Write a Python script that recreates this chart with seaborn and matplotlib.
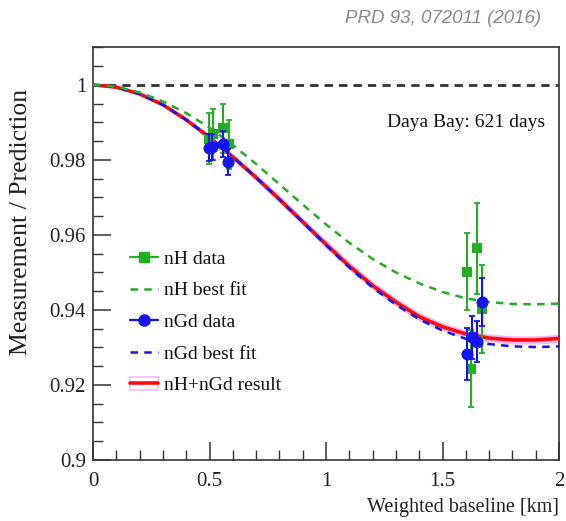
import numpy as np
import pandas as pd
import matplotlib
matplotlib.use("Agg")
import matplotlib.pyplot as plt
from matplotlib.lines import Line2D
from matplotlib.patches import Rectangle
from matplotlib.ticker import MultipleLocator, FixedLocator
import seaborn as sns

# ---------------- data ----------------
baseline = [0.0, 0.1, 0.2, 0.3, 0.4, 0.5, 0.6, 0.7, 0.8, 0.9, 1.0,
            1.1, 1.2, 1.3, 1.4, 1.5, 1.6, 1.7, 1.8, 1.9, 2.0]
combined_fit = [1.0000, 0.9994, 0.9976, 0.9947, 0.9907, 0.9860, 0.9808, 0.9753,
                0.9695, 0.9635, 0.9575, 0.9517, 0.9465, 0.9421, 0.9382, 0.9355,
                0.9336, 0.9325, 0.9320, 0.9320, 0.9324]
combined_band = [0.0, 0.0001, 0.0002, 0.0003, 0.0004, 0.0005, 0.0006, 0.0007,
                 0.0008, 0.0008, 0.0009, 0.0009, 0.0009, 0.0009, 0.0009, 0.0009,
                 0.0009, 0.0009, 0.0009, 0.0009, 0.0009]
ngd_fit = [1.0000, 0.9994, 0.9976, 0.9947, 0.9907, 0.9860, 0.9808, 0.9753,
           0.9695, 0.9634, 0.9573, 0.9513, 0.9460, 0.9414, 0.9375, 0.9345,
           0.9323, 0.9309, 0.9303, 0.9301, 0.9303]
nh_fit = [1.0000, 0.9995, 0.9980, 0.9956, 0.9925, 0.9886, 0.9840, 0.9789,
          0.9735, 0.9681, 0.9628, 0.9579, 0.9536, 0.9500, 0.9471, 0.9448,
          0.9431, 0.9421, 0.9416, 0.9415, 0.9417]

nh_L = [0.498, 0.515, 0.558, 0.584, 1.604, 1.624, 1.649, 1.668]
nh_ratio = [0.9856, 0.9868, 0.9884, 0.9842, 0.9502, 0.9243, 0.9564, 0.9402]
nh_err = [0.0068, 0.0068, 0.0065, 0.0065, 0.0102, 0.0103, 0.0121, 0.0118]

ngd_L = [0.498, 0.512, 0.558, 0.581, 1.604, 1.625, 1.649, 1.670]
ngd_ratio = [0.9833, 0.9835, 0.9842, 0.9795, 0.9283, 0.9327, 0.9315, 0.9421]
ngd_err = [0.0035, 0.0035, 0.0035, 0.0035, 0.0070, 0.0057, 0.0055, 0.0063]

legend_labels = ["nH data", "nH best fit", "nGd data", "nGd best fit", "nH+nGd result"]

# ---------------- styling ----------------
sns.set_style("ticks")
plt.rcParams["font.family"] = ["Liberation Serif", "DejaVu Serif"]

GREEN = "#22b022"
BLUE = "#1414f0"
RED = "#ff0a0a"
PINK = "#f7b8f7"

curves = pd.DataFrame({"L": baseline, "comb": combined_fit, "band": combined_band,
                       "ngd": ngd_fit, "nh": nh_fit})
curves["lo"] = curves["comb"] - curves["band"]
curves["hi"] = curves["comb"] + curves["band"]

fig = plt.figure(figsize=(5.66, 5.21), dpi=100)
ax = fig.add_axes([93 / 566, 1 - 460 / 521, 466 / 566, 413 / 521])

# reference line at 1
ax.axhline(1.0, color="#333333", lw=2.0, ls=(0, (3, 2.2)), zorder=1)

# combined band + line
ax.fill_between(curves["L"], curves["lo"] - 0.0002, curves["hi"] + 0.0002,
                color=PINK, lw=0, zorder=2)
sns.lineplot(data=curves, x="L", y="comb", color=RED, lw=2.6, ax=ax, zorder=3)
sns.lineplot(data=curves, x="L", y="ngd", color=BLUE, lw=1.8, ls=(0, (3, 2.5)),
             ax=ax, zorder=4)
sns.lineplot(data=curves, x="L", y="nh", color=GREEN, lw=1.8, ls=(0, (3, 2.5)),
             ax=ax, zorder=4)

# data points
ax.errorbar(nh_L, nh_ratio, yerr=nh_err, fmt="none", ecolor=GREEN, elinewidth=1.5,
            capsize=2.5, capthick=1.3, zorder=5)
sns.scatterplot(x=nh_L, y=nh_ratio, marker="s", s=60, color=GREEN, linewidth=0,
                ax=ax, zorder=6)
ax.errorbar(ngd_L, ngd_ratio, yerr=ngd_err, fmt="none", ecolor=BLUE, elinewidth=1.5,
            capsize=2.5, capthick=1.3, zorder=7)
sns.scatterplot(x=ngd_L, y=ngd_ratio, marker="o", s=75, color=BLUE, linewidth=0,
                ax=ax, zorder=8)

# axes
ax.set_xlim(0, 2)
ax.set_ylim(0.9, 1.0101)
ax.xaxis.set_major_locator(FixedLocator([0, 0.5, 1, 1.5, 2]))
ax.xaxis.set_minor_locator(MultipleLocator(0.1))
ax.yaxis.set_major_locator(FixedLocator([0.9, 0.92, 0.94, 0.96, 0.98, 1.0]))
ax.yaxis.set_minor_locator(MultipleLocator(0.005))
ax.set_xticklabels(["0", "0.5", "1", "1.5", "2"])
ax.set_yticklabels(["0.9", "0.92", "0.94", "0.96", "0.98", "1"])
ax.tick_params(axis="both", which="both", direction="in", top=False, right=False,
               color="#333333", labelsize=15, labelcolor="#222222")
ax.tick_params(axis="both", which="major", length=13, width=1.1)
ax.tick_params(axis="both", which="minor", length=7, width=1.0)
ax.tick_params(axis="x", pad=9)
ax.tick_params(axis="y", pad=5)
for s in ax.spines.values():
    s.set_color("#333333")
    s.set_linewidth(1.2)

ax.set_xlabel("Weighted baseline [km]", loc="right", fontsize=14.5, color="#222222",
              labelpad=5)
ax.set_ylabel("Measurement / Prediction", fontsize=18.5, color="#222222")
ax.yaxis.set_label_coords(-0.13, 0.576)

ax.text(0.97, 0.816, "Daya Bay: 621 days", transform=ax.transAxes, ha="right",
        va="center", fontsize=14, color="#111111")

fig.text(0.956, 0.965, "PRD 93, 072011 (2016)", ha="right", va="center",
         fontsize=13.5, style="italic", color="#8a8a8a",
         family=["Liberation Sans", "DejaVu Sans"])

# legend
h_nh = Line2D([], [], color=GREEN, marker="s", markersize=7, lw=1.6)
h_nhfit = Line2D([], [], color=GREEN, lw=1.8, ls=(0, (3, 2.5)))
h_ngd = Line2D([], [], color=BLUE, marker="o", markersize=8, lw=1.6)
h_ngdfit = Line2D([], [], color=BLUE, lw=1.8, ls=(0, (3, 2.5)))
h_comb = (Rectangle((0, 0), 1, 1, facecolor="white", edgecolor=PINK, lw=1.2),
          Line2D([], [], color=RED, lw=2.6))
leg = ax.legend([h_nh, h_nhfit, h_ngd, h_ngdfit, h_comb], legend_labels,
                loc="upper left", bbox_to_anchor=(0.062, 0.527), frameon=False,
                fontsize=14, handlelength=1.45, labelspacing=0.72, handletextpad=0.3,
                borderaxespad=0)
for t in leg.get_texts():
    t.set_color("#111111")

fig.savefig("out.png", dpi=100)
